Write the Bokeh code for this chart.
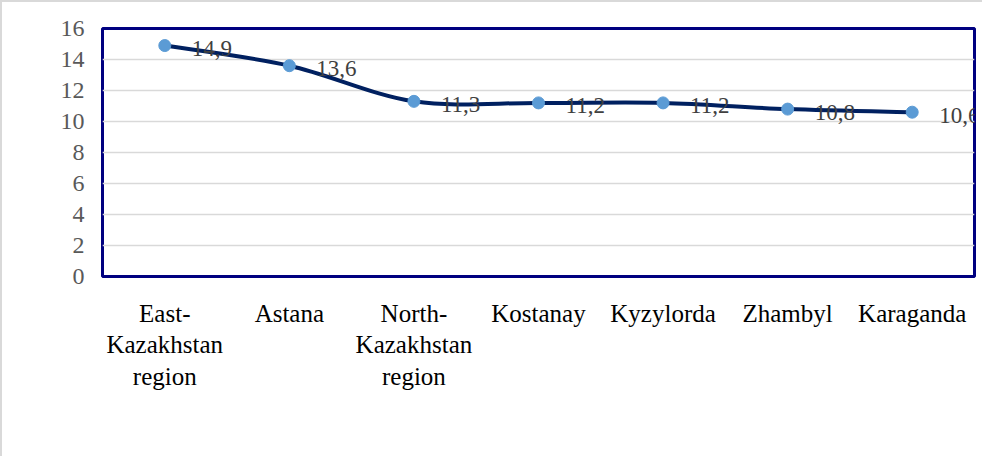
from bokeh.plotting import figure
from bokeh.models import Range1d, FixedTicker, ColumnDataSource
from bokeh.embed import file_html
from bokeh.resources import INLINE

categories = ["East-\nKazakhstan\nregion", "Astana", "North-\nKazakhstan\nregion",
              "Kostanay", "Kyzylorda", "Zhambyl", "Karaganda"]
values = [14.9, 13.6, 11.3, 11.2, 11.2, 10.8, 10.6]
y_ticks = [0, 2, 4, 6, 8, 10, 12, 14, 16]

xs = list(range(len(values)))
labels = [f"{v:.1f}".replace(".", ",") for v in values]

p = figure(width=982, height=456, output_backend="svg", toolbar_location=None,
           x_range=Range1d(-0.5, len(values) - 0.5), y_range=Range1d(0, 16),
           min_border_left=100, min_border_right=10, min_border_top=26, min_border_bottom=182)
p.styles = {"border-top": "2px solid #d9d9d9", "border-left": "2px solid #d9d9d9"}
p.background_fill_color = "white"
p.border_fill_color = "white"
p.outline_line_color = "#000080"
p.outline_line_width = 3

# axes
p.xaxis.ticker = FixedTicker(ticks=xs)
p.xaxis.major_label_overrides = {i: c for i, c in enumerate(categories)}
p.xaxis.axis_line_color = None
p.xaxis.major_tick_line_color = None
p.xaxis.minor_tick_line_color = None
p.xaxis.major_label_text_font = "Liberation Serif"
p.xaxis.major_label_text_font_size = "25px"
p.xaxis.major_label_text_color = "#000000"
p.xaxis.major_label_text_line_height = 1.18
p.xaxis.major_label_standoff = 17

p.yaxis.ticker = FixedTicker(ticks=y_ticks)
p.yaxis.axis_line_color = None
p.yaxis.major_tick_line_color = None
p.yaxis.minor_tick_line_color = None
p.yaxis.major_tick_out = 0
p.yaxis.major_tick_in = 0
p.yaxis.minor_tick_out = 0
p.yaxis.major_label_text_font = "Liberation Serif"
p.yaxis.major_label_text_font_size = "24px"
p.yaxis.major_label_text_color = "#595959"
p.yaxis.major_label_standoff = 18

p.xgrid.grid_line_color = None
p.ygrid.grid_line_color = "#d9d9d9"
p.ygrid.grid_line_width = 1.5

# smoothed line (Catmull-Rom -> cubic Bezier)
n = len(values)
x0, y0, x1, y1, cx0, cy0, cx1, cy1 = [], [], [], [], [], [], [], []
for i in range(n - 1):
    pm = max(i - 1, 0)
    pp = min(i + 2, n - 1)
    x0.append(xs[i]); y0.append(values[i])
    x1.append(xs[i + 1]); y1.append(values[i + 1])
    cx0.append(xs[i] + (xs[i + 1] - xs[pm]) / 6)
    cy0.append(values[i] + (values[i + 1] - values[pm]) / 6)
    cx1.append(xs[i + 1] - (xs[pp] - xs[i]) / 6)
    cy1.append(values[i + 1] - (values[pp] - values[i]) / 6)
p.bezier(x0=x0, y0=y0, x1=x1, y1=y1, cx0=cx0, cy0=cy0, cx1=cx1, cy1=cy1,
         line_color="#002060", line_width=4, line_cap="round")

src = ColumnDataSource(dict(x=xs, y=values, label=labels))
p.scatter("x", "y", source=src, size=12, fill_color="#5B9BD5", line_color="#5B9BD5")
p.text("x", "y", text="label", source=src, x_offset=27, y_offset=3,
       text_baseline="middle", text_align="left", text_font_size="23px",
       text_font={"value": "Liberation Serif"}, text_color="#404040")

open("out.html", "w").write(file_html(p, INLINE))
